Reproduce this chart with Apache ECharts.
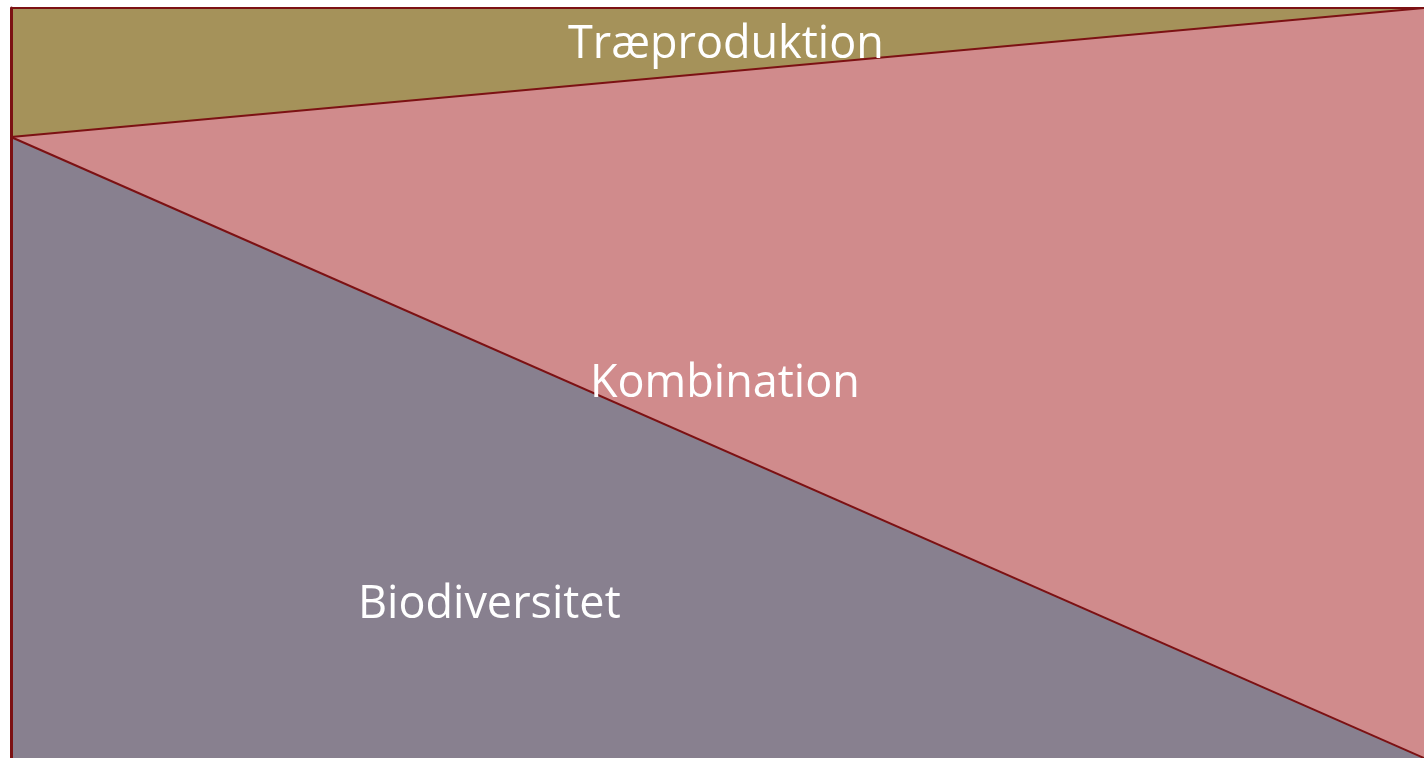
<!DOCTYPE html>
<html>
<head>
<meta charset="utf-8">
<script src="https://cdn.jsdelivr.net/npm/echarts@6/dist/echarts.min.js"></script>
<style>html,body{margin:0;padding:0;background:#fff}#main{width:1424px;height:758px}</style>
</head>
<body>
<div id="main"></div>
<script>
var categories = ['start', 'slut'];
var biodiversitet = [82.8, 0];
var kombination = [0, 100];
var traeproduktion = [17.2, 0];

var myChart = echarts.init(document.getElementById('main'));

var lineColor = '#7c1113';
var labelFont = '"Open Sans", "Noto Sans", sans-serif';

function areaSeries(name, data, color) {
    return {
        name: name,
        type: 'line',
        stack: 'total',
        data: data,
        symbol: 'none',
        lineStyle: { color: lineColor, width: 2 },
        areaStyle: { color: color, opacity: 1 }
    };
}

var option = {
    animation: false,
    grid: { left: 11, right: 0, top: 8, bottom: 0 },
    xAxis: {
        type: 'category',
        data: categories,
        boundaryGap: false,
        show: false
    },
    yAxis: {
        type: 'value',
        min: 0,
        max: 100,
        z: 10,
        axisLine: { show: true, lineStyle: { color: lineColor, width: 3 } },
        axisTick: { show: false },
        axisLabel: { show: false },
        splitLine: { show: false }
    },
    series: [
        areaSeries('Biodiversitet', biodiversitet, '#88808f'),
        areaSeries('Kombination', kombination, '#d08b8c'),
        areaSeries('Træproduktion', traeproduktion, '#a5925a')
    ],
    graphic: [
        { type: 'text', z: 100, left: 568, top: 23, style: { text: 'Træproduktion', fill: '#fff', font: '45px ' + labelFont } },
        { type: 'text', z: 100, left: 590, top: 362, style: { text: 'Kombination', fill: '#fff', font: '45px ' + labelFont } },
        { type: 'text', z: 100, left: 358, top: 583, style: { text: 'Biodiversitet', fill: '#fff', font: '45px ' + labelFont } }
    ]
};

myChart.setOption(option, true);
</script>
</body>
</html>
